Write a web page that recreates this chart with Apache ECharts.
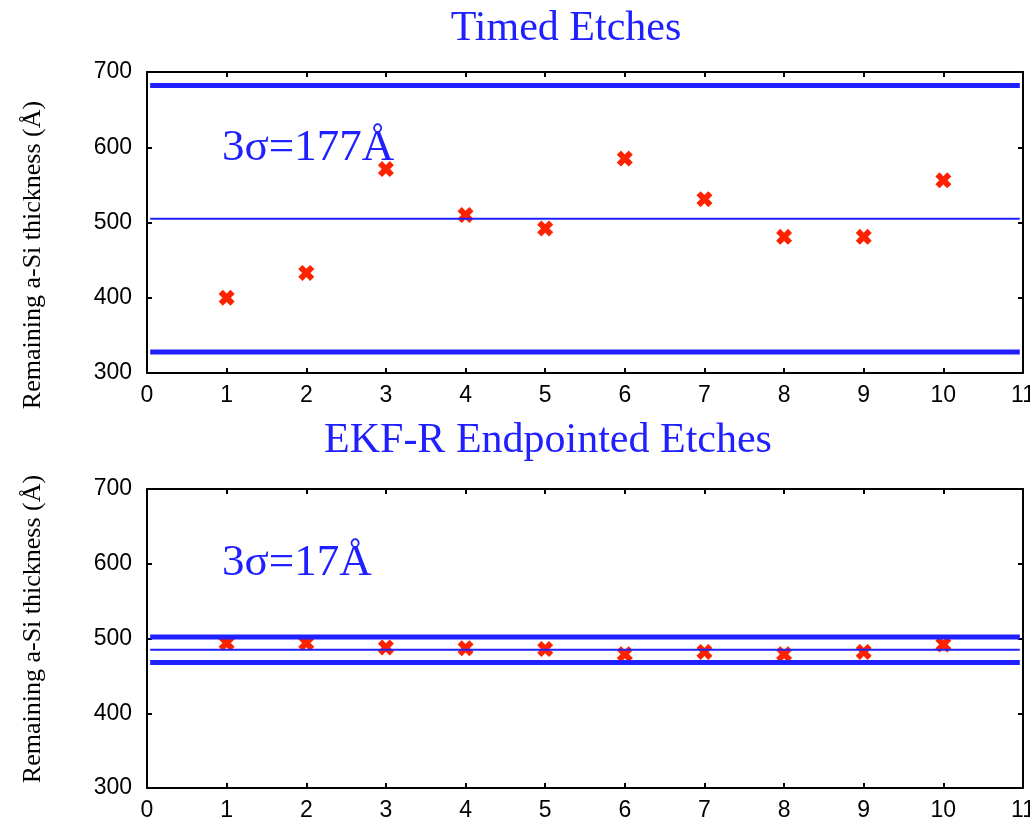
<!DOCTYPE html>
<html>
<head>
<meta charset="utf-8">
<title>Timed vs EKF-R Endpointed Etches</title>
<script src="https://cdn.jsdelivr.net/npm/echarts@6/dist/echarts.min.js"></script>
<style>
  html, body { margin: 0; padding: 0; background: #ffffff; overflow: hidden; }
  #chart { width: 1030px; height: 820px; }
</style>
</head>
<body>
<div id="chart"></div>
<script>
// Wafer index (x) for each etch run
const runs = [1, 2, 3, 4, 5, 6, 7, 8, 9, 10];

// Remaining a-Si thickness (Å) after each run
const timedThickness = [400, 433, 571, 510, 492, 585, 531, 481, 481, 556];
const ekfThickness   = [494, 494, 488, 487, 486, 479, 482, 479, 482, 492];

// Process centre line and 3-sigma spread (Å)
const timedMean = 505;
const timedSigma3 = 177;
const ekfMean = 485;
const ekfSigma3 = 17;

// Axis ticks
const xTicks = [0, 1, 2, 3, 4, 5, 6, 7, 8, 9, 10, 11];
const yTicks = [300, 400, 500, 600, 700];

// Panel titles and y-axis caption
const panelTitles = ['Timed Etches', 'EKF-R Endpointed Etches'];
const yCaption = 'Remaining a-Si thickness (Å)';

const BLUE = '#2020ff';
const RED = '#ff2200';
const SERIF = '"Liberation Serif", "Times New Roman", serif';
const SANS = '"Liberation Sans", Arial, Helvetica, sans-serif';

const X_MIN = xTicks[0], X_MAX = xTicks[xTicks.length - 1];
const Y_MIN = yTicks[0], Y_MAX = yTicks[yTicks.length - 1];

// Bold X marker
const crossPath = 'path://M0,2.6 L2.6,0 L5,2.4 L7.4,0 L10,2.6 L7.6,5 L10,7.4 L7.4,10 L5,7.6 L2.6,10 L0,7.4 L2.4,5 Z';

const grids = [
  { left: 147, right: 7, top: 72, height: 301, outerBoundsMode: 'none', containLabel: false },
  { left: 147, right: 7, top: 489, height: 299, outerBoundsMode: 'none', containLabel: false }
];

const axisLineStyle = { color: '#000', width: 2 };

function mainX(gridIndex) {
  return {
    type: 'value', gridIndex, min: X_MIN, max: X_MAX, interval: 1, position: 'bottom',
    axisLine: { show: true, onZero: false, lineStyle: axisLineStyle },
    axisTick: { show: true, inside: true, length: 5, lineStyle: axisLineStyle },
    axisLabel: { show: true, color: '#000', fontFamily: SANS, fontSize: 23, margin: 11, hideOverlap: false },
    splitLine: { show: false }
  };
}
function mirrorX(gridIndex) {
  return {
    type: 'value', gridIndex, min: X_MIN, max: X_MAX, interval: 1, position: 'top',
    axisLine: { show: true, onZero: false, lineStyle: axisLineStyle },
    axisTick: { show: true, inside: true, length: 5, lineStyle: axisLineStyle },
    axisLabel: { show: false },
    splitLine: { show: false }
  };
}
function mainY(gridIndex) {
  return {
    type: 'value', gridIndex, min: Y_MIN, max: Y_MAX, interval: 100, position: 'left',
    axisLine: { show: true, onZero: false, lineStyle: axisLineStyle },
    axisTick: { show: true, inside: true, length: 5, lineStyle: axisLineStyle },
    axisLabel: { show: true, color: '#000', fontFamily: SANS, fontSize: 23, margin: 15, hideOverlap: false },
    splitLine: { show: false }
  };
}
function mirrorY(gridIndex) {
  return {
    type: 'value', gridIndex, min: Y_MIN, max: Y_MAX, interval: 100, position: 'right',
    axisLine: { show: true, onZero: false, lineStyle: axisLineStyle },
    axisTick: { show: true, inside: true, length: 5, lineStyle: axisLineStyle },
    axisLabel: { show: false },
    splitLine: { show: false }
  };
}

function pointSeries(idx, values) {
  return {
    type: 'scatter', xAxisIndex: idx, yAxisIndex: idx,
    data: runs.map((r, i) => [r, values[i]]),
    symbol: crossPath, symbolSize: 16,
    itemStyle: { color: RED, opacity: 1 },
    z: 2, silent: true
  };
}
function hLine(idx, value, width) {
  return {
    type: 'line', xAxisIndex: idx, yAxisIndex: idx,
    data: [[X_MIN + 0.04, value], [X_MAX - 0.04, value]],
    showSymbol: false, symbol: 'none',
    lineStyle: { color: BLUE, width: width, cap: 'butt' },
    z: 3, silent: true, animation: false
  };
}

const chart = echarts.init(document.getElementById('chart'), null, { renderer: 'canvas' });

chart.setOption({
  animation: false,
  backgroundColor: '#ffffff',
  grid: grids,
  xAxis: [mainX(0), mainX(1), mirrorX(0), mirrorX(1)],
  yAxis: [mainY(0), mainY(1), mirrorY(0), mirrorY(1)],
  series: [
    pointSeries(0, timedThickness),
    hLine(0, timedMean + timedSigma3, 5),
    hLine(0, timedMean, 2),
    hLine(0, timedMean - timedSigma3, 5),
    pointSeries(1, ekfThickness),
    hLine(1, ekfMean + ekfSigma3, 5),
    hLine(1, ekfMean, 2),
    hLine(1, ekfMean - ekfSigma3, 5)
  ],
  graphic: [
    { type: 'text', x: 566, y: 29, style: { text: panelTitles[0], fill: BLUE, font: '42px ' + SERIF, textAlign: 'center', textVerticalAlign: 'middle' } },
    { type: 'text', x: 548, y: 441, style: { text: panelTitles[1], fill: BLUE, font: '42px ' + SERIF, textAlign: 'center', textVerticalAlign: 'middle' } },
    { type: 'text', x: 222, y: 148, style: { text: '3σ=' + timedSigma3 + 'Å', fill: BLUE, font: '45px ' + SERIF, textAlign: 'left', textVerticalAlign: 'middle' } },
    { type: 'text', x: 222, y: 563, style: { text: '3σ=' + ekfSigma3 + 'Å', fill: BLUE, font: '45px ' + SERIF, textAlign: 'left', textVerticalAlign: 'middle' } },
    { type: 'text', x: 33, y: 255, rotation: Math.PI / 2, style: { text: yCaption, fill: '#000', font: '26px ' + SERIF, textAlign: 'center', textVerticalAlign: 'middle' } },
    { type: 'text', x: 33, y: 629, rotation: Math.PI / 2, style: { text: yCaption, fill: '#000', font: '26px ' + SERIF, textAlign: 'center', textVerticalAlign: 'middle' } }
  ]
});
</script>
</body>
</html>
